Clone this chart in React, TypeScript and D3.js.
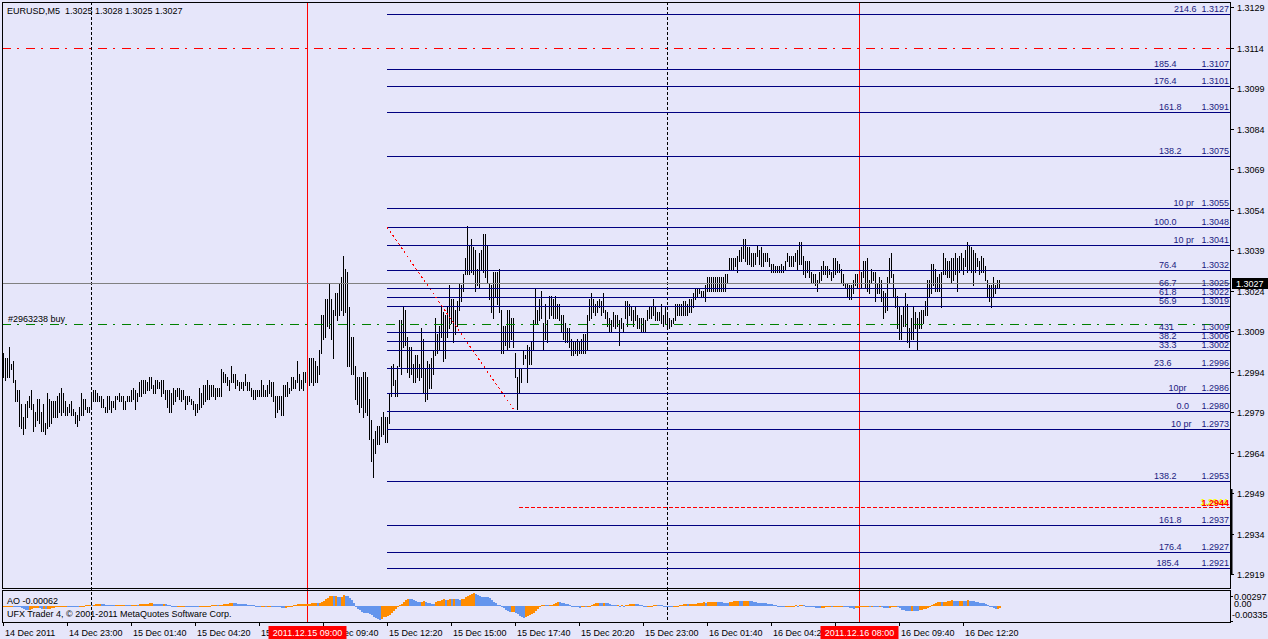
import { useEffect, useRef } from 'react';
import * as d3 from 'd3';

// --- DATA (EURUSD M5, one bar = 5 minutes from 14 Dec 20:20) ---
const headerText = 'EURUSD,M5  1.3025 1.3028 1.3025 1.3027';

const highs = [
  1.3001, 1.2999, 1.2999, 1.3003, 1.2997, 1.2998, 1.2991, 1.2987, 1.2987, 1.2982,
  1.2977, 1.2982, 1.2983, 1.2985, 1.2987, 1.2982, 1.2979, 1.2984, 1.2984, 1.2979,
  1.2982, 1.2975, 1.2986, 1.2984, 1.2983, 1.2983, 1.2983, 1.2985, 1.2986, 1.2988,
  1.2986, 1.2983, 1.2981, 1.2982, 1.2983, 1.2980, 1.2979, 1.2978, 1.2981, 1.2986,
  1.2984, 1.2984, 1.2981, 1.2981, 1.2986, 1.2987, 1.2987, 1.2986, 1.2985, 1.2985,
  1.2984, 1.2981, 1.2985, 1.2985, 1.2983, 1.2983, 1.2985, 1.2985, 1.2986, 1.2985,
  1.2985, 1.2983, 1.2985, 1.2985, 1.2987, 1.2988, 1.2987, 1.2986, 1.2990, 1.2991,
  1.2991, 1.2991, 1.2990, 1.2992, 1.2992, 1.2989, 1.2991, 1.2991, 1.2990, 1.2991,
  1.2991, 1.2987, 1.2987, 1.2987, 1.2986, 1.2988, 1.2987, 1.2988, 1.2988, 1.2987,
  1.2987, 1.2985, 1.2985, 1.2985, 1.2984, 1.2983, 1.2982, 1.2982, 1.2988, 1.2986,
  1.2989, 1.2989, 1.2991, 1.2989, 1.2989, 1.2989, 1.2988, 1.2988, 1.2988, 1.2995,
  1.2994, 1.2993, 1.2992, 1.2991, 1.2996, 1.2993, 1.2993, 1.2991, 1.2990, 1.2990,
  1.2990, 1.2993, 1.2990, 1.2990, 1.2988, 1.2987, 1.2987, 1.2987, 1.2987, 1.2991,
  1.2989, 1.2987, 1.2989, 1.2991, 1.2990, 1.2990, 1.2985, 1.2985, 1.2985, 1.2985,
  1.2989, 1.2989, 1.2990, 1.2988, 1.2992, 1.2992, 1.2991, 1.2998, 1.2993, 1.2991,
  1.2994, 1.2994, 1.2999, 1.2999, 1.2999, 1.2999, 1.2998, 1.2996, 1.3002, 1.3015,
  1.3015, 1.3021, 1.3021, 1.3027, 1.3021, 1.3017, 1.3023, 1.3023, 1.3027, 1.3029,
  1.3037, 1.3032, 1.3031, 1.3018, 1.3007, 1.3007, 1.2996, 1.2992, 1.2992, 1.2992,
  1.2994, 1.2994, 1.2992, 1.2984, 1.2976, 1.2969, 1.2972, 1.2974, 1.2974, 1.2977,
  1.2979, 1.2977, 1.2977, 1.2986, 1.2996, 1.2997, 1.2991, 1.2996, 1.3013, 1.3013,
  1.3018, 1.3017, 1.3007, 1.3003, 1.3003, 1.2997, 1.3000, 1.3000, 1.2997, 1.3010,
  1.3006, 1.2995, 1.2998, 1.2997, 1.2999, 1.3002, 1.3014, 1.3008, 1.3011, 1.3018,
  1.3016, 1.3015, 1.3018, 1.3026, 1.3021, 1.3021, 1.3017, 1.3020, 1.3027, 1.3026,
  1.3030, 1.3036, 1.3048, 1.3041, 1.3043, 1.3040, 1.3039, 1.3032, 1.3038, 1.3039,
  1.3045, 1.3045, 1.3041, 1.3027, 1.3026, 1.3031, 1.3031, 1.3031, 1.3032, 1.3017,
  1.3011, 1.3011, 1.3017, 1.3017, 1.3014, 1.3014, 1.3001, 1.2992, 1.2995, 1.2995,
  1.3002, 1.3000, 1.3004, 1.3003, 1.3005, 1.3013, 1.3025, 1.3017, 1.3021,
  1.3024, 1.3012, 1.3019, 1.3013, 1.3022, 1.3022, 1.3021, 1.3022, 1.3019, 1.3019,
  1.3015, 1.3015, 1.3012, 1.3010, 1.3010, 1.3006, 1.3005, 1.3005, 1.3006, 1.3005,
  1.3006, 1.3008, 1.3008, 1.3015, 1.3021, 1.3023, 1.3021, 1.3019, 1.3020, 1.3021,
  1.3020, 1.3023, 1.3017, 1.3016, 1.3014, 1.3013, 1.3016, 1.3015, 1.3015, 1.3013,
  1.3014, 1.3012, 1.3020, 1.3020, 1.3019, 1.3018, 1.3017, 1.3018, 1.3015, 1.3014,
  1.3014, 1.3014, 1.3013, 1.3017, 1.3018, 1.3018, 1.3021, 1.3018, 1.3016, 1.3016,
  1.3019, 1.3015, 1.3018, 1.3015, 1.3014, 1.3013, 1.3014, 1.3019, 1.3019, 1.3019,
  1.3019, 1.3020, 1.3020, 1.3019, 1.3021, 1.3021, 1.3023, 1.3025, 1.3025, 1.3025,
  1.3024, 1.3024, 1.3026, 1.3029, 1.3029, 1.3029, 1.3029, 1.3029, 1.3029, 1.3029,
  1.3029, 1.3029, 1.3030, 1.3030, 1.3036, 1.3036, 1.3036, 1.3036, 1.3037, 1.3039,
  1.3040, 1.3043, 1.3043, 1.3040, 1.3040, 1.3038, 1.3038, 1.3038, 1.3041, 1.3039,
  1.3040, 1.3038, 1.3038, 1.3038, 1.3036,
  1.3034, 1.3034, 1.3033, 1.3033, 1.3033, 1.3034, 1.3033, 1.3035, 1.3038, 1.3037,
  1.3037, 1.3037, 1.3038, 1.3039, 1.3042, 1.3042, 1.3037, 1.3035, 1.3035, 1.3035,
  1.3031, 1.3030, 1.3030, 1.3028, 1.3031, 1.3033, 1.3035, 1.3033, 1.3033, 1.3032,
  1.3031, 1.3036, 1.3036, 1.3035, 1.3034, 1.3032, 1.3030, 1.3027, 1.3027, 1.3026,
  1.3026, 1.3028, 1.3030, 1.3030, 1.3031, 1.3031, 1.3035, 1.3035, 1.3036, 1.3028,
  1.3032, 1.3031, 1.3031, 1.3027, 1.3029, 1.3028, 1.3024, 1.3023, 1.3029, 1.3036,
  1.3038, 1.3030, 1.3025, 1.3022, 1.3018, 1.3015, 1.3018, 1.3023, 1.3019, 1.3010,
  1.3014, 1.3018, 1.3016, 1.3014, 1.3016, 1.3017, 1.3017, 1.3020, 1.3028, 1.3028,
  1.3034, 1.3034, 1.3032, 1.3029, 1.3030, 1.3031, 1.3038, 1.3036, 1.3035, 1.3035,
  1.3036, 1.3036, 1.3038, 1.3036, 1.3037, 1.3038, 1.3036, 1.3039, 1.3042, 1.3041,
  1.3040, 1.3039, 1.3038, 1.3036, 1.3035, 1.3037, 1.3036, 1.3033, 1.3028, 1.3026,
  1.3026, 1.3029, 1.3026, 1.3028, 1.3028,
];

const lows = [
  1.2992, 1.2991, 1.2992, 1.2992, 1.2995, 1.2990, 1.2983, 1.2983, 1.2974, 1.2973,
  1.2971, 1.2973, 1.2977, 1.2981, 1.2980, 1.2972, 1.2974, 1.2976, 1.2975, 1.2972,
  1.2972, 1.2971, 1.2973, 1.2974, 1.2975, 1.2977, 1.2977, 1.2977, 1.2979, 1.2978,
  1.2979, 1.2978, 1.2978, 1.2979, 1.2978, 1.2978, 1.2975, 1.2974, 1.2976, 1.2978,
  1.2978, 1.2980, 1.2979, 1.2979, 1.2980, 1.2983, 1.2983, 1.2983, 1.2983, 1.2981,
  1.2981, 1.2979, 1.2979, 1.2980, 1.2979, 1.2981, 1.2980, 1.2984, 1.2983, 1.2983,
  1.2980, 1.2980, 1.2983, 1.2983, 1.2983, 1.2984, 1.2980, 1.2983, 1.2985, 1.2985,
  1.2986, 1.2986, 1.2987, 1.2987, 1.2988, 1.2986, 1.2986, 1.2988, 1.2988, 1.2985,
  1.2986, 1.2984, 1.2981, 1.2979, 1.2979, 1.2982, 1.2983, 1.2985, 1.2984, 1.2983,
  1.2984, 1.2980, 1.2982, 1.2983, 1.2982, 1.2980, 1.2978, 1.2979, 1.2980, 1.2981,
  1.2982, 1.2983, 1.2984, 1.2984, 1.2985, 1.2985, 1.2984, 1.2985, 1.2985, 1.2985,
  1.2990, 1.2990, 1.2989, 1.2987, 1.2990, 1.2990, 1.2988, 1.2989, 1.2987, 1.2988,
  1.2987, 1.2989, 1.2987, 1.2987, 1.2985, 1.2984, 1.2984, 1.2985, 1.2985, 1.2985,
  1.2985, 1.2985, 1.2985, 1.2986, 1.2985, 1.2983, 1.2977, 1.2979, 1.2980, 1.2978,
  1.2978, 1.2985, 1.2985, 1.2986, 1.2987, 1.2988, 1.2988, 1.2990, 1.2987, 1.2988,
  1.2987, 1.2990, 1.2992, 1.2989, 1.2990, 1.2989, 1.2990, 1.2990, 1.2993, 1.3001,
  1.3006, 1.3007, 1.3011, 1.3010, 1.3006, 1.2999, 1.3015, 1.3013, 1.3015, 1.3017,
  1.3015, 1.3016, 1.2996, 1.2996, 1.2993, 1.2993, 1.2984, 1.2982, 1.2979, 1.2981,
  1.2977, 1.2979, 1.2978, 1.2969, 1.2961, 1.2955, 1.2964, 1.2967, 1.2967, 1.2970,
  1.2971, 1.2968, 1.2968, 1.2975, 1.2985, 1.2989, 1.2985, 1.2985, 1.2996, 1.2993,
  1.3003, 1.3004, 1.2994, 1.2992, 1.2993, 1.2990, 1.2990, 1.2992, 1.2991, 1.2992,
  1.2986, 1.2983, 1.2984, 1.2988, 1.2988, 1.2993, 1.3000, 1.3001, 1.3002, 1.3007,
  1.2998, 1.2999, 1.3007, 1.3010, 1.3012, 1.3005, 1.3008, 1.3011, 1.3017, 1.3020,
  1.3024, 1.3030, 1.3030, 1.3030, 1.3031, 1.3030, 1.3024, 1.3026, 1.3025, 1.3032,
  1.3031, 1.3029, 1.3027, 1.3021, 1.3016, 1.3014, 1.3022, 1.3019, 1.3016, 1.3001,
  1.3001, 1.3004, 1.3002, 1.3003, 1.3006, 1.3003, 1.2992, 1.2980, 1.2986, 1.2990,
  1.2997, 1.2999, 1.2990, 1.2997, 1.2997, 1.3002, 1.3012, 1.3012, 1.3013,
  1.3014, 1.3002, 1.3006, 1.3005, 1.3014, 1.3015, 1.3014, 1.3014, 1.3014, 1.3013,
  1.3009, 1.3006, 1.3005, 1.3005, 1.3003, 1.3000, 1.3000, 1.3001, 1.3000, 1.3001,
  1.3001, 1.3001, 1.3001, 1.3002, 1.3013, 1.3014, 1.3016, 1.3015, 1.3016, 1.3018,
  1.3015, 1.3016, 1.3014, 1.3011, 1.3009, 1.3009, 1.3011, 1.3010, 1.3011, 1.3004,
  1.3010, 1.3009, 1.3014, 1.3011, 1.3015, 1.3013, 1.3011, 1.3013, 1.3010, 1.3010,
  1.3009, 1.3009, 1.3009, 1.3013, 1.3014, 1.3014, 1.3015, 1.3013, 1.3013, 1.3013,
  1.3012, 1.3011, 1.3012, 1.3011, 1.3010, 1.3011, 1.3012, 1.3013, 1.3015, 1.3015,
  1.3015, 1.3015, 1.3015, 1.3015, 1.3016, 1.3016, 1.3018, 1.3021, 1.3022, 1.3023,
  1.3022, 1.3022, 1.3020, 1.3024, 1.3024, 1.3024, 1.3024, 1.3024, 1.3024, 1.3024,
  1.3024, 1.3024, 1.3024, 1.3027, 1.3032, 1.3032, 1.3032, 1.3033, 1.3031, 1.3035,
  1.3035, 1.3036, 1.3035, 1.3034, 1.3034, 1.3033, 1.3033, 1.3034, 1.3037, 1.3034,
  1.3033, 1.3033, 1.3035, 1.3035, 1.3033,
  1.3031, 1.3031, 1.3031, 1.3031, 1.3031, 1.3031, 1.3031, 1.3032, 1.3035, 1.3033,
  1.3033, 1.3033, 1.3035, 1.3032, 1.3034, 1.3034, 1.3030, 1.3029, 1.3031, 1.3029,
  1.3027, 1.3027, 1.3026, 1.3024, 1.3027, 1.3028, 1.3030, 1.3030, 1.3029, 1.3030,
  1.3028, 1.3029, 1.3030, 1.3031, 1.3031, 1.3027, 1.3026, 1.3025, 1.3022, 1.3021,
  1.3021, 1.3023, 1.3026, 1.3025, 1.3026, 1.3025, 1.3029, 1.3025, 1.3024, 1.3023,
  1.3027, 1.3028, 1.3020, 1.3023, 1.3023, 1.3020, 1.3014, 1.3016, 1.3017, 1.3027,
  1.3029, 1.3022, 1.3018, 1.3010, 1.3006, 1.3006, 1.3011, 1.3011, 1.3005, 1.3003,
  1.3006, 1.3006, 1.3010, 1.3002, 1.3010, 1.3010, 1.3012, 1.3015, 1.3015, 1.3022,
  1.3023, 1.3026, 1.3024, 1.3024, 1.3024, 1.3018, 1.3030, 1.3030, 1.3029, 1.3029,
  1.3027, 1.3028, 1.3030, 1.3024, 1.3031, 1.3032, 1.3030, 1.3033, 1.3031, 1.3032,
  1.3031, 1.3026, 1.3031, 1.3033, 1.3030, 1.3031, 1.3031, 1.3028, 1.3022, 1.3020,
  1.3018, 1.3022, 1.3023, 1.3025, 1.3025,
];

const priceTicks = [1.3129, 1.3114, 1.3099, 1.3084, 1.3069, 1.3054, 1.3039, 1.3024, 1.3009, 1.2994, 1.2979, 1.2964, 1.2949, 1.2934, 1.2919];

// one time label every 32 bars
const timeLabels = [
  '14 Dec 2011', '14 Dec 23:00', '15 Dec 01:40', '15 Dec 04:20', '15 Dec 07:00', '15 Dec 09:40',
  '15 Dec 12:20', '15 Dec 15:00', '15 Dec 17:40', '15 Dec 20:20', '15 Dec 23:00', '16 Dec 01:40',
  '16 Dec 04:20', '16 Dec 07:00', '16 Dec 09:40', '16 Dec 12:20',
];

// day separators and vertical lines (bar index)
const separatorBars = [44, 332];
const vlineBars = [152, 428];
const vlineLabels = ['2011.12.15 09:00', '2011.12.16 08:00'];

// fibonacci object: anchors (bar, price) and its levels
const fibAnchorBars = [192, 256];
const fibAnchorPrices = [1.30476, 1.29793];
const fibLinePrices = [
  1.31264, 1.3106, 1.31, 1.30901, 1.30738, 1.30545, 1.30476, 1.30409, 1.30315, 1.30249, 1.30215, 1.30183,
  1.30086, 1.30052, 1.3002, 1.29953, 1.2986, 1.29793, 1.29726, 1.29535, 1.2937, 1.2927, 1.29212,
];
const fibDescriptions = [
  '214.6  %$', '185.4          %$', '176.4          %$', '161.8        %$', '138.2        %$', '10 pr   %$',
  '100.0          %$', '10 pr   %$', '76.4          %$', '66.7          %$', '61.8          %$', '56.9          %$',
  '431           %$', '38.2          %$', '33.3          %$', '23.6            %$', '10pr      %$', '0.0     %$',
  '10 pr    %$', '138.2          %$', '161.8        %$', '176.4        %$', '185.4         %$',
];
const fibQuotes = [
  '1.3127', '1.3107', '1.3101', '1.3091', '1.3075', '1.3055', '1.3048', '1.3041', '1.3032', '1.3025', '1.3022', '1.3019',
  '1.3009', '1.3006', '1.3002', '1.2996', '1.2986', '1.2980', '1.2973', '1.2953', '1.2937', '1.2927', '1.2921',
];

const dashDotPrice = 1.3114;
const orderPrice = 1.30115;
const orderLabel = '#2963238 buy';
const bidPrice = 1.3027;
const stopPrice = 1.2944;
const stopStartBar = 258;
const stopLabel = '1.2944';

const aoTicks = [0.00297, 0, -0.00335];
const aoTickLabels = ['0.00297', '0.00', '-0.00335'];
const aoTitle = 'AO -0.00062';
const copyright = 'UFX Trader 4, © 2001-2011 MetaQuotes Software Corp.';

export default function App() {
  const svgRef = useRef<SVGSVGElement>(null);

  useEffect(() => {
    if (!svgRef.current) return;
    const svg = d3.select(svgRef.current);
    svg.selectAll('*').remove();

    const W = 1268;
    const H = 639;
    const frame = { left: 2, right: 1230, top: 2, bottom: 588 };
    const aoBox = { top: 590, bottom: 622 };
    const font = '"Liberation Sans", Arial, sans-serif';
    const crisp = (v: number) => Math.round(v) + 0.5;
    const dashDot = '9,6,2,7';

    const x = d3.scaleLinear().domain([0, 1]).range([3, 5]);
    const y = d3.scaleLinear().domain([1.2919, 1.3129]).range([574, 7.3]);
    const yAO = d3.scaleLinear().domain([-0.00335, 0.00297]).range([621, 592]);

    svg.append('rect').attr('width', W).attr('height', H).attr('fill', '#e6e6fa');

    // period separators
    separatorBars.forEach((b) => {
      svg.append('line')
        .attr('x1', crisp(x(b))).attr('x2', crisp(x(b)))
        .attr('y1', frame.top).attr('y2', aoBox.bottom)
        .attr('stroke', '#000').attr('stroke-dasharray', '3,2')
        .attr('shape-rendering', 'crispEdges');
    });

    // price bars (high-low only at this zoom)
    svg.append('g')
      .attr('shape-rendering', 'crispEdges')
      .selectAll('line')
      .data(highs)
      .join('line')
      .attr('x1', (_, i) => x(i) + 0.5)
      .attr('x2', (_, i) => x(i) + 0.5)
      .attr('y1', (d) => Math.round(y(d)))
      .attr('y2', (_, i) => Math.round(y(lows[i])) + 1)
      .attr('stroke', '#000');

    // vertical lines
    vlineBars.forEach((b) => {
      svg.append('line')
        .attr('x1', crisp(x(b))).attr('x2', crisp(x(b)))
        .attr('y1', frame.top).attr('y2', aoBox.bottom)
        .attr('stroke', '#ff0000')
        .attr('shape-rendering', 'crispEdges');
    });

    const hline = (price: number, color: string, dash: string | null, x0: number) => {
      const l = svg.append('line')
        .attr('x1', x0).attr('x2', frame.right)
        .attr('y1', crisp(y(price))).attr('y2', crisp(y(price)))
        .attr('stroke', color)
        .attr('shape-rendering', 'crispEdges');
      if (dash) l.attr('stroke-dasharray', dash);
    };

    hline(dashDotPrice, '#ff0000', dashDot, frame.left);
    hline(bidPrice, '#808080', null, frame.left);
    hline(orderPrice, '#008000', dashDot, frame.left);

    // fibonacci levels
    const fibX0 = x(fibAnchorBars[0]);
    fibLinePrices.forEach((p) => hline(p, '#000080', null, fibX0));
    svg.append('line')
      .attr('x1', fibX0).attr('y1', y(fibAnchorPrices[0]))
      .attr('x2', x(fibAnchorBars[1])).attr('y2', y(fibAnchorPrices[1]))
      .attr('stroke', '#ff0000').attr('stroke-dasharray', '2,3')
      .attr('shape-rendering', 'crispEdges');

    fibLinePrices.forEach((p, i) => {
      svg.append('text')
        .attr('x', frame.right - 1)
        .attr('y', crisp(y(p)) - 3)
        .attr('text-anchor', 'end')
        .style('white-space', 'pre')
        .attr('font-family', font).attr('font-size', 9)
        .attr('fill', '#1a1a80')
        .text(fibDescriptions[i].replace('%$', fibQuotes[i]));
    });

    // stop level
    hline(stopPrice, '#ff0000', '4,2', x(stopStartBar));
    svg.append('text')
      .attr('x', frame.right - 2).attr('y', crisp(y(stopPrice)) - 3)
      .attr('text-anchor', 'end')
      .attr('font-family', font).attr('font-size', 9).attr('font-weight', 'bold')
      .attr('fill', '#ffff00')
      .text(stopLabel);
    svg.append('text')
      .attr('x', frame.right - 1).attr('y', crisp(y(stopPrice)) - 2)
      .attr('text-anchor', 'end')
      .attr('font-family', font).attr('font-size', 9).attr('font-weight', 'bold')
      .attr('fill', '#ff0000')
      .text(stopLabel);

    // texts in main window
    svg.append('text')
      .attr('x', 7).attr('y', 14)
      .style('white-space', 'pre')
      .attr('font-family', font).attr('font-size', 9).attr('fill', '#000')
      .text(headerText);
    svg.append('text')
      .attr('x', 8).attr('y', crisp(y(orderPrice)) - 3)
      .attr('font-family', font).attr('font-size', 9).attr('fill', '#000')
      .text(orderLabel);

    // Awesome Oscillator, from the median price of the bars
    const medians = highs.map((h, i) => (h + lows[i]) / 2);
    const sma = (n: number, i: number) => d3.mean(medians.slice(Math.max(0, i - n + 1), i + 1)) as number;
    const ao = medians.map((_, i) => sma(5, i) - sma(34, i));
    svg.append('g')
      .attr('shape-rendering', 'crispEdges')
      .selectAll('rect')
      .data(ao)
      .join('rect')
      .attr('x', (_, i) => x(i))
      .attr('width', 2)
      .attr('y', (d) => Math.min(yAO(d), yAO(0)))
      .attr('height', (d) => Math.max(1, Math.abs(yAO(d) - yAO(0))))
      .attr('fill', (d, i) => (i === 0 || d >= ao[i - 1] ? '#ff8c00' : '#6495ed'));

    svg.append('text')
      .attr('x', 7).attr('y', 604)
      .attr('font-family', font).attr('font-size', 9).attr('fill', '#000')
      .text(aoTitle);
    svg.append('text')
      .attr('x', 7).attr('y', 617)
      .attr('font-family', font).attr('font-size', 9).attr('fill', '#000')
      .text(copyright);

    // frames
    svg.append('rect')
      .attr('x', frame.left + 0.5).attr('y', frame.top + 0.5)
      .attr('width', frame.right - frame.left).attr('height', frame.bottom - frame.top)
      .attr('fill', 'none').attr('stroke', '#000');
    svg.append('rect')
      .attr('x', frame.left + 0.5).attr('y', aoBox.top + 0.5)
      .attr('width', frame.right - frame.left).attr('height', aoBox.bottom - aoBox.top)
      .attr('fill', 'none').attr('stroke', '#000');

    // price axis
    priceTicks.forEach((p) => {
      const py = crisp(y(p));
      svg.append('line')
        .attr('x1', frame.right + 1).attr('x2', frame.right + 4)
        .attr('y1', py).attr('y2', py)
        .attr('stroke', '#000');
      svg.append('text')
        .attr('x', 1237).attr('y', py + 3.5)
        .attr('font-family', font).attr('font-size', 9).attr('fill', '#000')
        .text(d3.format('.4f')(p));
    });
    svg.append('rect')
      .attr('x', frame.right).attr('width', 2.5)
      .attr('y', y(1.29505)).attr('height', y(1.2919) - y(1.29505))
      .attr('fill', '#000');

    // current bid box
    const by = crisp(y(bidPrice));
    svg.append('rect')
      .attr('x', 1232).attr('y', by - 5.5).attr('width', 36).attr('height', 11)
      .attr('fill', '#000');
    svg.append('text')
      .attr('x', 1236).attr('y', by + 3.5)
      .attr('font-family', font).attr('font-size', 9).attr('fill', '#fff')
      .text(d3.format('.4f')(bidPrice));

    // AO axis
    const aoLabelY = [600, 607, 618];
    aoTicks.forEach((v, i) => {
      svg.append('text')
        .attr('x', v < 0 ? 1232 : 1234).attr('y', aoLabelY[i])
        .attr('font-family', font).attr('font-size', 9).attr('fill', '#000')
        .text(aoTickLabels[i]);
    });
    [596, 621].forEach((ty) => {
      svg.append('line')
        .attr('x1', frame.right + 1).attr('x2', frame.right + 3)
        .attr('y1', ty + 0.5).attr('y2', ty + 0.5)
        .attr('stroke', '#000');
    });

    // time axis
    timeLabels.forEach((t, k) => {
      const tx = crisp(x(k * 32));
      svg.append('line')
        .attr('x1', tx).attr('x2', tx)
        .attr('y1', aoBox.bottom).attr('y2', aoBox.bottom + 4)
        .attr('stroke', '#000');
      svg.append('text')
        .attr('x', tx + 1.5).attr('y', 636)
        .attr('font-family', font).attr('font-size', 9).attr('fill', '#000')
        .text(t);
    });
    vlineBars.forEach((b, i) => {
      const cx = crisp(x(b));
      svg.append('rect')
        .attr('x', cx - 39).attr('y', 626).attr('width', 78).attr('height', 13)
        .attr('fill', '#ff0000');
      svg.append('text')
        .attr('x', cx).attr('y', 636)
        .attr('text-anchor', 'middle')
        .attr('font-family', font).attr('font-size', 9).attr('fill', '#fff')
        .text(vlineLabels[i]);
    });
  }, []);

  return (
    <svg
      ref={svgRef}
      width={1268}
      height={639}
      style={{ position: 'absolute', left: 0, top: 0, display: 'block' }}
    />
  );
}
